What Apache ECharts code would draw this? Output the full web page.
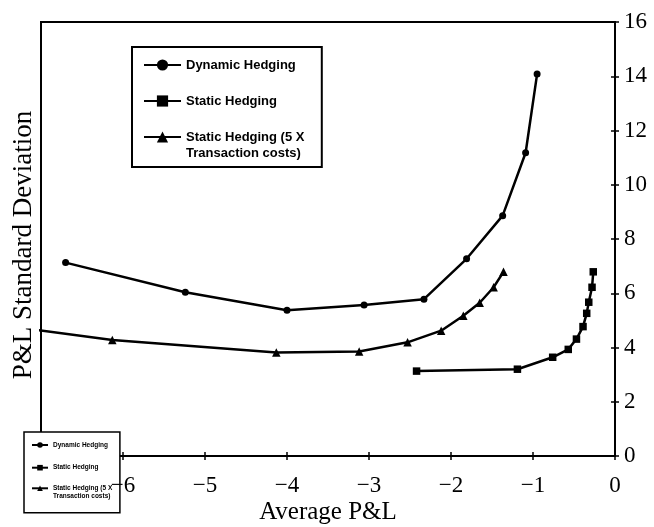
<!DOCTYPE html>
<html><head><meta charset="utf-8">
<script src="https://cdn.jsdelivr.net/npm/echarts@6/dist/echarts.min.js"></script>
<style>html,body{margin:0;padding:0;background:#fff}#c{width:654px;height:527px}</style>
</head><body><div id="c"></div>
<script>
// ---- data ----
const seriesNames = ['Dynamic Hedging', 'Static Hedging', 'Static Hedging (5 X Transaction costs)'];

const dynamicX = [-6.70, -5.24, -4.00, -3.06, -2.33, -1.81, -1.37, -1.09, -0.95];
const dynamicY = [7.13, 6.04, 5.37, 5.57, 5.78, 7.27, 8.86, 11.18, 14.08];

const staticX = [-2.42, -1.19, -0.76, -0.57, -0.47, -0.39, -0.345, -0.32, -0.28, -0.265];
const staticY = [3.13, 3.20, 3.64, 3.93, 4.31, 4.77, 5.26, 5.67, 6.22, 6.79];

const static5xX = [-7.4, -6.13, -4.13, -3.12, -2.53, -2.12, -1.85, -1.65, -1.48, -1.36];
const static5xY = [4.78, 4.28, 3.82, 3.85, 4.19, 4.62, 5.17, 5.65, 6.22, 6.79];

const xRange = [-7, 0];
const yRange = [0, 16];
const xStep = 1;
const yStep = 2;
// ---------------------------------------

const pairs = (xs, ys) => xs.map((x, i) => [x, ys[i]]);
const minus = v => String(v).replace('-', '\u2212');
const serif = 'Liberation Serif';
const sans = 'Liberation Sans';
const black = '#000';

const lineSeries = (name, xs, ys, symbol, size) => ({
  type: 'line', name, data: pairs(xs, ys), symbol, symbolSize: size,
  xAxisIndex: 0, yAxisIndex: 0, clip: true,
  lineStyle: { color: black, width: 2.5 }, itemStyle: { color: black },
  emphasis: { disabled: true }, animation: false
});

const bigText = { fontFamily: sans, fontWeight: 'bold', fontSize: 13, lineHeight: 16, color: black };
const smallText = { fontFamily: sans, fontWeight: 'bold', fontSize: 6.5, lineHeight: 8, color: black };
const wrap5x = () => '\nStatic Hedging (5 X\nTransaction costs)';

const chart = echarts.init(document.getElementById('c'), null, { renderer: 'canvas' });
chart.setOption({
  backgroundColor: '#fff',
  animation: false,
  grid: [
    { left: 41, right: 39, top: 22, bottom: 71, containLabel: false, outerBoundsMode: 'none',
      show: true, borderColor: black, borderWidth: 2, backgroundColor: 'transparent' },
    { left: 41, right: 39, top: 34, bottom: 71, containLabel: false, outerBoundsMode: 'none', show: false }
  ],
  xAxis: [
    { type: 'value', min: xRange[0], max: xRange[1], interval: xStep, position: 'bottom',
      axisLine: { show: true, onZero: false, lineStyle: { color: black, width: 2 } },
      axisTick: { show: true, length: 4, lineStyle: { color: black, width: 1.5 } },
      axisLabel: { show: false }, splitLine: { show: false },
      name: 'Average P&L', nameLocation: 'middle', nameGap: 44,
      nameTextStyle: { fontFamily: serif, fontSize: 25, color: black } },
    { type: 'value', min: xRange[0], max: xRange[1], interval: xStep, position: 'bottom',
      axisLine: { show: false, onZero: false },
      axisTick: { show: true, inside: true, length: 4, lineStyle: { color: black, width: 1.5 } },
      axisLabel: { show: false }, splitLine: { show: false } },
    { type: 'value', min: xRange[0], max: xRange[1], interval: xStep, position: 'bottom', z: 8,
      axisLine: { show: false, onZero: false }, axisTick: { show: false },
      axisLabel: { showMinLabel: false, margin: 18, color: black, fontFamily: serif, fontSize: 23, formatter: minus },
      splitLine: { show: false } },
    { type: 'value', gridIndex: 1, min: xRange[0], max: xRange[1], show: false }
  ],
  yAxis: [
    { type: 'value', min: yRange[0], max: yRange[1], interval: yStep, position: 'right',
      axisLine: { show: true, onZero: false, lineStyle: { color: black, width: 2 } },
      axisTick: { show: true, length: 4, lineStyle: { color: black, width: 1.5 } },
      axisLabel: { margin: 9, color: black, fontFamily: serif, fontSize: 23 },
      splitLine: { show: false } },
    { type: 'value', min: yRange[0], max: yRange[1], interval: yStep, position: 'right',
      axisLine: { show: false, onZero: false },
      axisTick: { show: true, inside: true, length: 4, lineStyle: { color: black, width: 1.5 } },
      axisLabel: { show: false }, splitLine: { show: false } },
    { type: 'value', gridIndex: 1, min: yRange[0], max: yRange[1], position: 'left',
      axisLine: { show: false, onZero: false }, axisTick: { show: false },
      axisLabel: { show: false }, splitLine: { show: false },
      name: 'P&L Standard Deviation', nameLocation: 'middle', nameGap: 4,
      nameTextStyle: { fontFamily: serif, fontSize: 27, color: black } }
  ],
  legend: [
    { data: [seriesNames[0], seriesNames[1]], orient: 'vertical', left: 132, top: 47,
      padding: [10, 26, 58, 11], itemGap: 20, itemWidth: 37, itemHeight: 14,
      borderColor: black, borderWidth: 2, backgroundColor: '#fff', borderRadius: 0,
      textStyle: bigText, selectedMode: false, z: 4 },
    { data: [seriesNames[2]], orient: 'vertical', left: 143, top: 113, padding: 0,
      itemWidth: 37, itemHeight: 14, formatter: wrap5x,
      textStyle: bigText, selectedMode: false, z: 5 },
    { data: [seriesNames[0], seriesNames[1]], orient: 'vertical', left: 24, top: 432,
      padding: [9, 12, 41, 7], itemGap: 14.7, itemWidth: 16, itemHeight: 7,
      borderColor: black, borderWidth: 1.5, backgroundColor: '#fff', borderRadius: 0,
      textStyle: smallText, selectedMode: false, z: 4 },
    { data: [seriesNames[2]], orient: 'vertical', left: 31, top: 476.3, padding: 0,
      itemWidth: 16, itemHeight: 7, formatter: wrap5x,
      textStyle: smallText, selectedMode: false, z: 5 }
  ],
  series: [
    lineSeries(seriesNames[0], dynamicX, dynamicY, 'circle', 7),
    lineSeries(seriesNames[1], staticX, staticY, 'rect', 7.5),
    lineSeries(seriesNames[2], static5xX, static5xY, 'triangle', 8.5)
  ]
});
</script></body></html>
